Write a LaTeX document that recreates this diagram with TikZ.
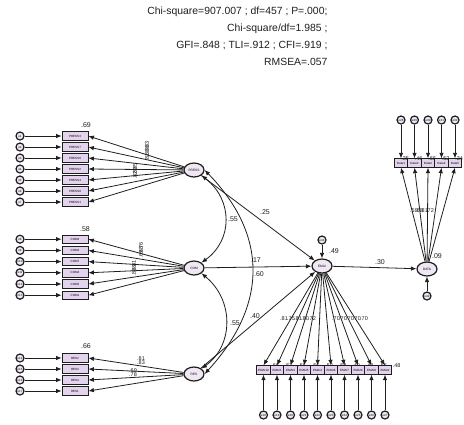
\documentclass[tikz,border=0pt]{standalone}
\usepackage{fontspec}
\setmainfont{Liberation Sans}
\usetikzlibrary{arrows.meta,positioning,shapes.geometric}
\definecolor{semlilac}{HTML}{E4D3EC}
\definecolor{semink}{HTML}{1E1E1E}

\begin{document}
\begin{tikzpicture}[x=1pt,y=-1pt,
  obs/.style={draw=semink, thick, fill=semlilac, minimum width=26pt, minimum height=8.5pt, inner sep=0pt, font=\fontsize{3}{3}\selectfont},
  obsnarrow/.style={obs, minimum width=13.5pt},
  lat/.style={ellipse, draw=semink, very thick, fill=semlilac!55, minimum width=20pt, minimum height=14pt, inner sep=0pt, font=\fontsize{3.2}{3.2}\selectfont},
  err/.style={circle, draw=semink, very thick, fill=semlilac!55, minimum size=8pt, inner sep=0pt, font=\fontsize{3}{3}\selectfont},
  load/.style={draw=semink, thick, -{Latex[length=5.5pt,width=4.5pt]}},
  cov/.style={draw=semink, thick, {Latex[length=5.5pt,width=4.5pt]}-{Latex[length=5.5pt,width=4.5pt]}},
  est/.style={font=\fontsize{7}{7}\selectfont, inner sep=0.5pt, text=semink},
  estsm/.style={font=\fontsize{5.5}{5.5}\selectfont, inner sep=0pt, text=semink}
]
\useasboundingbox (0,0) rectangle (464,424);

\node[anchor=north east, align=right, font=\fontsize{10.4}{17}\selectfont, text=semink] (fit) at (331,3)
  {Chi-square=907.007 ; df=457 ; P=.000;\\Chi-square/df=1.985 ;\\GFI=.848 ; TLI=.912 ; CFI=.919 ;\\RMSEA=.057};

\node[lat] (press) at (194,170) {PRESS};
\node[lat] (com) at (194,268) {COM};
\node[lat] (res) at (194,374) {RES};
\node[lat] (emai) at (322,266) {EMAI};
\node[lat] (data) at (427,269) {DATA};
\node[err] (zemai) at (322,240) {e41};
\node[err] (zdata) at (427,296) {e42};
\draw[load] (zemai) -- (emai);
\draw[load] (zdata) -- (data);

\foreach \lab [count=\i] in {PRESS3,PRESS7,PRESS6,PRESS2,PRESS4,PRESS8,PRESS1} {
  \node[obs] (p\i) at (75,{125+11*\i}) {\lab};
  \node[err] (ep\i) at (20,{125+11*\i}) {e\i};
  \draw[load] (ep\i) -- (p\i);
  \draw[load] (press) -- (p\i.east);
}
\foreach \lab [count=\i] in {COM3,COM2,COM7,COM4,COM5,COM1} {
  \node[obs] (c\i) at (75,{228+11.2*\i}) {\lab};
  \node[err] (ec\i) at (20,{228+11.2*\i}) {e\the\numexpr\i+7\relax};
  \draw[load] (ec\i) -- (c\i);
  \draw[load] (com) -- (c\i.east);
}
\foreach \lab [count=\i] in {RES2,RES3,RES4,RES1} {
  \node[obs] (r\i) at (75,{347+11*\i}) {\lab};
  \node[err] (er\i) at (20,{347+11*\i}) {e\the\numexpr\i+13\relax};
  \draw[load] (er\i) -- (r\i);
  \draw[load] (res) -- (r\i.east);
}
\foreach \lab/\rsq [count=\i] in {EMAI10/.66,EMAI1/.57,EMAI3/.56,EMAI5/.56,EMAI4/.52,EMAI6/.58,EMAI7/.49,EMAI9/.49,EMAI8/.56,EMAI2/.48} {
  \node[obsnarrow] (m\i) at ({250+13.5*\i},370) {\lab};
  \node[err] (em\i) at ({250+13.5*\i},415) {e\the\numexpr\i+17\relax};
  \draw[load] (em\i) -- (m\i);
  \draw[load] (emai) -- (m\i.north);
  \node[estsm, anchor=south west] (rm\i) at ([xshift=0.5pt,yshift=-2pt]m\i.north east) {\rsq};
}
\foreach \lab/\rsq [count=\i] in {Data1/.35,Data3/.46,Data2/.66,Data4/.52,Data5/.34} {
  \node[obsnarrow] (d\i) at ({387.5+13.5*\i},163) {\lab};
  \node[err] (ed\i) at ({387.5+13.5*\i},120) {e\the\numexpr\i+27\relax};
  \draw[load] (ed\i) -- (d\i);
  \draw[load] (data) -- (d\i.south);
  \node[estsm, anchor=south east] (rd\i) at ([xshift=1pt,yshift=-2pt]d\i.north east) {\rsq};
}

\draw[cov] (press.south east) .. controls (233,200) and (233,240) .. (com.north east);
\draw[cov] (com.south east) .. controls (234,300) and (234,345) .. (res.north east);
\draw[cov] (press.east) .. controls (268,235) and (268,305) .. (res.east);
\draw[load] (press) -- (emai);
\draw[load] (com) -- (emai);
\draw[load] (res) -- (emai);
\draw[load] (emai) -- (data);

\node[est] (l69) at (86,125) {.69};
\node[est] (l58) at (85,229) {.58};
\node[est] (l66) at (86,346) {.66};
\node[est] (l49) at (334,251) {.49};
\node[est] (l09) at (437,256) {.09};
\node[est] (lcov1) at (233,219) {.55};
\node[est] (lcov2) at (235,323) {.55};
\node[est] (lcov3) at (256,260) {.17};
\node[est] (lpe) at (265,212) {.25};
\node[est] (lce) at (259,274) {.60};
\node[est] (lre) at (255,316) {.40};
\node[est] (led) at (380,262) {.30};

\foreach \v/\xx/\yy [count=\i] in {.83/147/145,.86/147/149,.80/147/153,.81/147/157,.85/135/167,.80/135/171,.82/135/175} {
  \node[estsm, rotate=90] (lp\i) at (\xx,\yy) {\v};
}
\foreach \v/\xx/\yy [count=\i] in {.76/141/246,.68/141/250,.69/141/254,.81/134/264,.69/134/268,.80/134/272} {
  \node[estsm, rotate=90] (lc\i) at (\xx,\yy) {\v};
}
\foreach \v/\xx/\yy [count=\i] in {.81/141/359,.83/141/363,.69/133/371,.78/133/375} {
  \node[estsm] (lr\i) at (\xx,\yy) {\v};
}
\foreach \v/\xx [count=\i] in {.81/284,.75/291,.81/298,.80/305,.72/312,.70/336,.70/343,.70/350,.70/357,.70/364} {
  \node[estsm] (lm\i) at (\xx,319) {\v};
}
\foreach \v/\xx [count=\i] in {.59/414,.68/419,.81/424,.72/430} {
  \node[estsm] (ld\i) at (\xx,211) {\v};
}
\end{tikzpicture}
\end{document}
